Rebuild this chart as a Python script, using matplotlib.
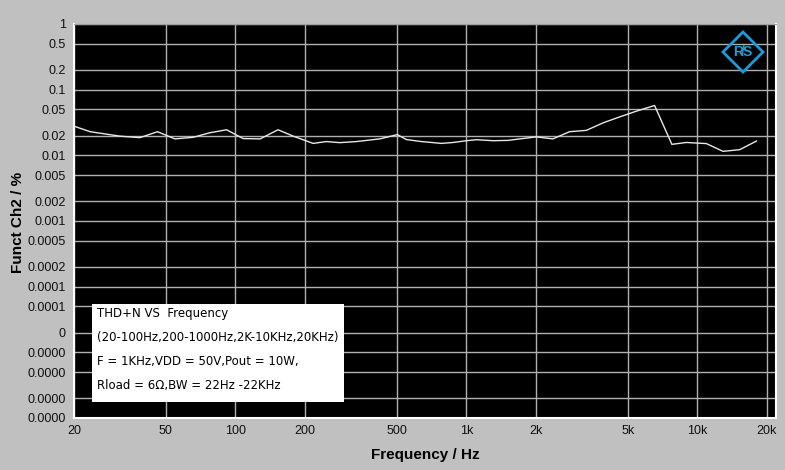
import matplotlib
matplotlib.use("Agg")
import matplotlib.pyplot as plt
from matplotlib.patches import Polygon

freq = [20, 23.5, 31.6, 38.6, 46, 54.7, 65.6, 77.6, 91.6, 108, 128, 153, 178, 217, 248, 283, 334, 422, 503,
        550, 630, 780, 878, 1000, 1108, 1310, 1520, 1706, 2010, 2372, 2800, 3312, 3910, 4620, 5450, 6540,
        7770, 8980, 10960, 12940, 15280, 18060]
thd = [0.0278, 0.0229, 0.0196, 0.0186, 0.0229, 0.0178, 0.0188, 0.0221, 0.0245, 0.0180, 0.0178, 0.0245, 0.0196,
       0.0152, 0.0162, 0.0156, 0.0162, 0.0178, 0.0207,
       0.0174, 0.0163, 0.0152, 0.0157, 0.0167, 0.0173, 0.0167, 0.0169, 0.0178, 0.0191, 0.0178, 0.0229, 0.0240,
       0.0312, 0.0385, 0.0470, 0.0574, 0.0147, 0.0157, 0.0151, 0.0115, 0.0122, 0.0165]

yticks = [1, 0.5, 0.2, 0.1, 0.05, 0.02, 0.01, 0.005, 0.002, 0.001, 0.0005, 0.0002, 0.0001,
          0.00005, 0.00002, 0.00001, 0.000005, 0.000002, 0.000001]
ylabels = ["1", "0.5", "0.2", "0.1", "0.05", "0.02", "0.01", "0.005", "0.002", "0.001", "0.0005",
           "0.0002", "0.0001", "0.0001", "0", "0.0000", "0.0000", "0.0000", "0.0000"]
xticks = [20, 50, 100, 200, 500, 1000, 2000, 5000, 10000, 20000]
xlabels = ["20", "50", "100", "200", "500", "1k", "2k", "5k", "10k", "20k"]

note_lines = ["THD+N VS  Frequency",
              "(20-100Hz,200-1000Hz,2K-10KHz,20KHz)",
              "F = 1KHz,VDD = 50V,Pout = 10W,",
              "Rload = 6\u03a9,BW = 22Hz -22KHz"]

plt.rcParams['font.family'] = ['Liberation Sans', 'DejaVu Sans']

fig = plt.figure(figsize=(7.85, 4.70), dpi=100, facecolor="#c0c0c0")
ax = fig.add_axes([74/785, 1 - 418/470, (776 - 74)/785, (418 - 24)/470])
ax.set_facecolor("black")
ax.set_xscale("log")
ax.set_yscale("log")
ax.set_xlim(20, 21950)
ax.set_ylim(1e-6, 1)

ax.plot(freq, thd, color="#e8e8e8", lw=1.0, zorder=3)

ax.set_yticks(yticks)
ax.set_yticklabels(ylabels)
ax.set_xticks(xticks)
ax.set_xticklabels(xlabels)
ax.minorticks_off()
ax.tick_params(axis="both", length=0, labelsize=9, colors="#101010")
ax.tick_params(axis="y", pad=6)
ax.tick_params(axis="x", pad=5)
ax.grid(True, color="#b0b0b0", lw=1.0)

for s in ["left", "bottom", "right"]:
    ax.spines[s].set_color("white")
    ax.spines[s].set_linewidth(1.5)
ax.spines["top"].set_color("#a0a0a0")

ax.set_xlabel("Frequency / Hz", fontsize=11, fontweight="bold", labelpad=8)
fig.text(18/785, 1 - 222/470, "Funct Ch2 / %", rotation=90, fontsize=11,
         fontweight="bold", ha="center", va="center")

# annotation box
box_l, box_r, box_t, box_b = 92/785, 344/785, 1 - 304/470, 1 - 402/470
fig.patches.append(plt.Rectangle((box_l, box_b), box_r - box_l, box_t - box_b,
                                 transform=fig.transFigure, facecolor="white",
                                 edgecolor="none", zorder=5))
ys = [313, 338, 362, 386]
for t, yp in zip(note_lines, ys):
    fig.text(97/785, 1 - yp/470, t, fontsize=8.5, va="center", ha="left",
             family=["DejaVu Sans"], zorder=6, color="black")

# logo diamond
cx, cy, r = 743, 52, 20
pts = [((cx)/785, 1 - (cy - r)/470), ((cx + r)/785, 1 - cy/470),
       ((cx)/785, 1 - (cy + r)/470), ((cx - r)/785, 1 - cy/470)]
fig.patches.append(Polygon(pts, closed=True, transform=fig.transFigure,
                           facecolor="none", edgecolor="#1e9ad6", lw=2, zorder=6))
fig.text(cx/785, 1 - cy/470, "R\u0338S", fontsize=10, color="#1e9ad6",
         ha="center", va="center", fontweight="bold", zorder=7)

fig.savefig("out.png", dpi=100, facecolor=fig.get_facecolor())
